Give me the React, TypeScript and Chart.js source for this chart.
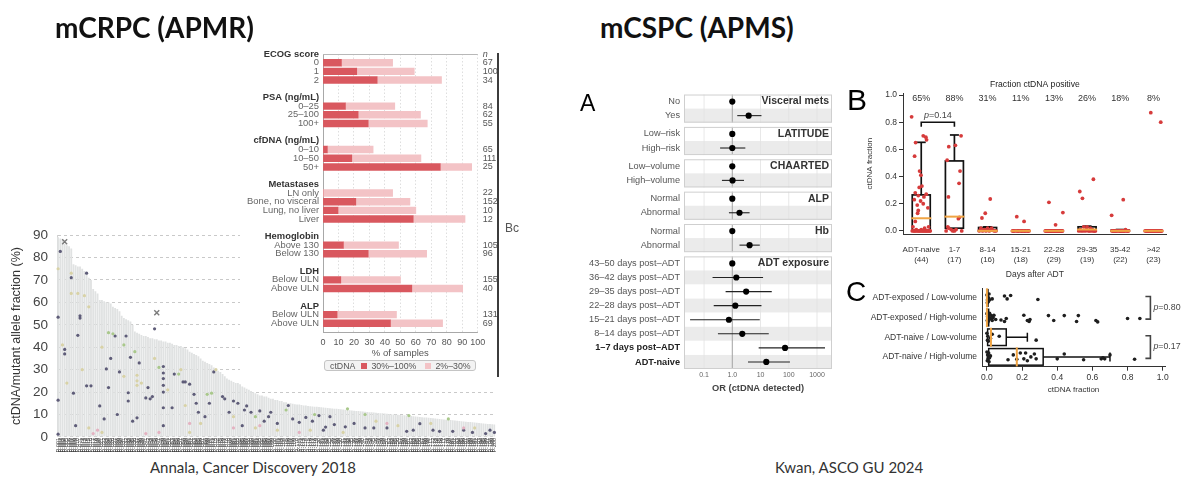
import React, { useEffect, useRef } from "react";
import { Chart, registerables } from "chart.js";

Chart.register(...registerables);
const FONT = "'Liberation Sans', Arial, Helvetica, sans-serif";
const SLIDE_FONT = "Lato, 'Open Sans', sans-serif";
Chart.defaults.font.family = FONT;
Chart.defaults.color = "#444";

// ---------------- Left: ctDNA fraction per sample (mCRPC) ----------------
const afValues = [
  89, 88.5, 88, 86, 85.5, 85, 84, 77, 76.5, 76,
  76, 75, 74, 73, 71, 70, 66, 65, 64, 61,
  61, 60.5, 60, 60, 59.5, 58, 57.5, 57, 56, 54,
  53, 52.5, 52, 51.5, 50, 47, 46.5, 46, 45.5, 45,
  45, 44.5, 44, 44, 43.5, 43.5, 43, 43, 42.5, 42.5,
  42, 42, 41.5, 41, 41, 40.5, 40.5, 40, 39.5, 39,
  38, 37.5, 37, 36.5, 36, 35, 34, 33.5, 33, 32.5,
  32, 31, 30, 29.5, 29, 28, 27, 26, 25.5, 25,
  24.5, 24, 24, 23.5, 22.5, 22, 21.5, 21, 20.5, 20,
  19.5, 19, 18.5, 18.5, 18, 18, 17.5, 17, 17, 16.5,
  16.5, 16, 16, 15.5, 15.5, 15, 15, 14.8, 14.6, 14.5,
  14.4, 14.2, 14, 14, 13.8, 13.7, 13.6, 13.5, 13.4, 13.3,
  13.2, 13.1, 13, 12.9, 12.8, 12.7, 12.6, 12.5, 12.4, 12.3,
  12.2, 12.1, 12, 11.9, 11.8, 11.7, 11.6, 11.5, 11.4, 11.3,
  11.2, 11.1, 11, 11, 10.9, 10.8, 10.7, 10.6, 10.5, 10.4,
  10.3, 10.2, 10.1, 10, 10, 9.9, 9.8, 9.7, 9.6, 9.5,
  9.4, 9.3, 9.2, 9.1, 9, 8.9, 8.8, 8.7, 8.6, 8.5,
  8.4, 8.3, 8.2, 8.1, 8, 7.9, 7.8, 7.7, 7.6, 7.5,
  7.4, 7.3, 7.2, 7.1, 7, 6.9, 6.8, 6.7, 6.6, 6.5,
  6.4, 6.3, 6.2, 6.1, 6, 5.9, 5.8, 5.7, 5.6, 5.5,
];
const sampleIds = afValues.map((_, i) => `P-${String(i + 1).padStart(3, "0")}`);
const afTitle = "ctDNA/mutant allele fraction (%)";

const afDotsDark = [
  [0, 53.4], [0, 16.4], [0, 1.2], [1, 82.7], [3, 39], [3, 37], [6, 71], [7, 19.5], [9, 45.3], [8, 5],
  [10, 54], [10, 53], [13, 73], [13, 22.8], [15, 22.8], [19, 13.8], [21, 8], [22, 30.3], [23, 22], [26, 45],
  [24, 35], [28, 29], [27, 10], [31, 45], [33, 35.5], [32, 19.7], [32, 16], [44, 48.2], [37, 33], [34, 7],
  [36, 8.5], [40, 17.4], [41, 22], [43, 18], [42, 17], [48, 31.4], [48, 28.5], [48, 26], [48, 23], [48, 20],
  [48, 13], [48, 5], [52, 13], [53, 28], [57, 24.5], [58, 24.5], [60, 23.5], [62, 19], [64, 11], [63, 15],
  [67, 9], [69, 15], [71, 29], [75, 18], [76, 17], [78, 11], [80, 16], [82, 15], [84, 5], [85, 12],
  [86, 13.8], [88, 11], [92, 11.6], [94, 7], [96, 9], [97, 11], [100, 6], [105, 14], [107, 8], [110, 6.5],
  [113, 8.7], [116, 7], [119, 9.5], [121, 3], [122, 4.4], [124, 9], [126, 5.5], [131, 4.5], [135, 6], [140, 4],
  [144, 4], [150, 4], [159, 2.5], [162, 3], [165, 5.9], [171, 3], [174, 2.5], [180, 2.5], [185, 3], [189, 2],
  [195, 1.5], [197, 3], [199, 2],
];
const afDotsGreen = [
  [23, 46.5], [25, 46], [30, 41], [35, 38], [46, 31], [55, 28], [68, 19], [70, 19.5], [90, 9], [104, 12],
  [117, 10], [132, 12.5], [140, 10], [160, 9.5], [178, 8],
];
const afDotsPale = [
  [0, 75], [6, 73], [6, 64], [9, 64], [12, 63], [2, 41], [4, 24], [11, 30], [14, 58], [20, 40],
  [30, 27], [38, 24], [50, 21], [44, 35], [58, 14], [65, 6], [72, 30], [80, 9], [56, 30], [36, 27.5],
  [36, 25], [36, 23], [100, 3], [130, 2], [145, 7], [155, 5], [170, 6], [190, 4], [60, 2], [20, 2],
  [14, 4], [90, 4], [115, 3],
];
const afDotsPink = [
  [16, 1.5], [18, 3], [46, 2], [80, 4], [92, 5], [150, 6], [185, 4], [110, 2], [60, 6], [40, 1.5],
];
const afCrosses = [[3, 87], [45, 55.4]];

// ---------------- Overlay: % of samples by clinical group ----------------
const ovLabels = [
  "ECOG score", "0", "1", "2", "",
  "PSA (ng/mL)", "0–25", "25–100", "100+", "",
  "cfDNA (ng/mL)", "0–10", "10–50", "50+", "",
  "Metastases", "LN only", "Bone, no visceral", "Lung, no liver", "Liver", "",
  "Hemoglobin", "Above 130", "Below 130", "",
  "LDH", "Below ULN", "Above ULN", "",
  "ALP", "Below ULN", "Above ULN", "",
];
const ovHeaders = [0, 5, 10, 15, 21, 25, 29];
const ovHigh = [
  null, 11.9, 21.8, 35, null,
  null, 14.5, 22.7, 29.2, null,
  null, 2.8, 18.6, 75.8, null,
  null, 0, 21.2, 9.7, 58.3, null,
  null, 13.2, 29.2, null,
  null, 11.5, 57.4, null,
  null, 9.1, 43.6, null,
];
const ovAny = [
  null, 45, 59, 76.6, null,
  null, 46.4, 63, 67.4, null,
  null, 32.4, 63.3, 96.1, null,
  null, 45, 56.2, 60, 91.8, null,
  null, 48.8, 67, null,
  null, 50.1, 90.3, null,
  null, 47.5, 77.3, null,
];
const ovN = [
  "n", "67", "100", "34", "",
  "", "84", "62", "55", "",
  "", "65", "111", "25", "",
  "", "22", "152", "10", "12", "",
  "", "105", "96", "",
  "", "155", "40", "",
  "", "131", "69", "",
];
const ovSeries = ["30%–100%", "2%–30%"];
const ovColors = ["#d9585f", "#f3c3c6"];

// ---------------- A: forest plot ----------------
const forestGroups = ["Visceral mets", "LATITUDE", "CHAARTED", "ALP", "Hb", "ADT exposure"];
const forestRowGroup = [0, 0, 1, 1, 2, 2, 3, 3, 4, 4, 5, 5, 5, 5, 5, 5, 5, 5];
const forestRows = [
  "No", "Yes", "Low–risk", "High–risk", "Low–volume", "High–volume", "Normal", "Abnormal", "Normal", "Abnormal",
  "43–50 days post–ADT", "36–42 days post–ADT", "29–35 days post–ADT", "22–28 days post–ADT",
  "15–21 days post–ADT", "8–14 days post–ADT", "1–7 days post–ADT", "ADT-naive",
];
const forestBold = [false, false, false, false, false, false, false, false, false, false, false, false, false, false, false, false, true, true];
const forestOR = [1, 3.8, 1, 1.0, 1, 1.02, 1, 1.8, 1, 4.1, 1, 1.39, 3.1, 1.28, 0.76, 2.26, 74, 16];
const forestLo = [null, 1.5, null, 0.37, null, 0.43, null, 0.76, null, 1.8, null, 0.2, 0.58, 0.22, 0.032, 0.31, 8.6, 3.6];
const forestHi = [null, 10.8, null, 2.9, null, 2.6, null, 4.1, null, 9.4, null, 12.3, 25, 10.8, 9.4, 19.6, 1920, 110];
const forestTicks = [0.1, 1, 10, 100, 1000];
const forestTickLabels = ["0.1", "1.0", "10", "100", "1000"];
const FOREST_GAP = 0.3;
const forestPositions = forestRowGroup.map((g, i) => i + g * FOREST_GAP);

// ---------------- B: ctDNA fraction by days after ADT ----------------
const bCategories = ["ADT-naive", "1-7", "8-14", "15-21", "22-28", "29-35", "35-42", ">42"];
const bCounts = [44, 17, 16, 18, 29, 19, 22, 23];
const bPositive = ["65%", "88%", "31%", "11%", "13%", "26%", "18%", "8%"];
const bYTicks = [0, 0.2, 0.4, 0.6, 0.8, 1.0];
const bQ1 = [0, 0.02, 0, 0, 0, 0, 0, 0];
const bMedian = [0.093, 0.105, 0, 0, 0, 0.01, 0, 0];
const bQ3 = [0.265, 0.515, 0.025, 0, 0, 0.03, 0.005, 0];
const bWhiskerHi = [0.652, 0.706, 0.03, 0, 0, 0.035, 0.01, 0];
const bDots = [
  [[-0.29, 0.84], [0.06, 0.70], [0.14, 0.69], [0.16, 0.67], [-0.17, 0.65], [-0.2, 0.55], [-0.05, 0.44], [-0.01, 0.41],
   [0.02, 0.33], [-0.06, 0.32], [-0.18, 0.28], [0.15, 0.27], [-0.09, 0.26], [0.08, 0.25], [-0.21, 0.23], [-0.02, 0.22],
   [0.06, 0.2], [-0.12, 0.19], [0.2, 0.17], [-0.09, 0.15], [-0.11, 0.13], [-0.18, 0.07], [-0.25, 0.03], [0.1, 0.02],
   [0.22, 0.03], [-0.15, 0.01], [0.0, 0.01], [-0.27, 0], [-0.2, 0], [-0.12, 0], [-0.05, 0], [0.03, 0], [0.09, 0],
   [0.15, 0], [0.21, 0], [0.25, 0], [-0.08, 0], [0.12, 0], [-0.22, 0], [0.18, 0], [-0.02, 0], [0.05, 0], [-0.16, 0], [0.27, 0]],
  [[0.2, 0.70], [0.03, 0.63], [-0.17, 0.62], [-0.22, 0.52], [0.17, 0.44], [0.14, 0.35], [-0.18, 0.25], [0.15, 0.10],
   [0.12, 0.09], [-0.2, 0.03], [-0.17, 0.02], [-0.1, 0.01], [0.0, 0.0], [-0.25, 0.0], [0.05, 0.01], [-0.05, 0.0], [0.22, 0.0]],
  [[0.08, 0.235], [-0.07, 0.13], [-0.17, 0.095], [-0.2, 0.02], [-0.1, 0.01], [0, 0.02], [0.1, 0.01], [0.2, 0],
   [-0.15, 0], [0.05, 0], [0.15, 0.005], [-0.05, 0], [0.25, 0], [-0.25, 0], [0.12, 0.02], [-0.02, 0.01]],
  [[-0.12, 0.105], [0.1, 0.07], [-0.25, 0], [-0.2, 0], [-0.15, 0], [-0.1, 0], [-0.05, 0], [0, 0], [0.05, 0],
   [0.1, 0], [0.15, 0], [0.2, 0], [0.25, 0], [-0.22, 0], [-0.08, 0], [0.03, 0], [0.12, 0], [0.22, 0]],
  [[-0.15, 0.21], [0.27, 0.135], [0.05, 0.045], [-0.26, 0], [-0.22, 0], [-0.18, 0], [-0.14, 0], [-0.1, 0], [-0.06, 0],
   [-0.02, 0], [0.02, 0], [0.06, 0], [0.1, 0], [0.14, 0], [0.18, 0], [0.22, 0], [0.26, 0], [-0.24, 0], [-0.16, 0],
   [-0.08, 0], [0, 0], [0.08, 0], [0.16, 0], [0.24, 0], [-0.12, 0], [0.04, 0], [0.12, 0], [0.2, 0], [-0.04, 0]],
  [[-0.22, 0.29], [-0.14, 0.24], [0.19, 0.38], [0.0, 0.03], [0.1, 0.02], [-0.1, 0.03], [-0.25, 0], [-0.18, 0],
   [-0.12, 0], [-0.05, 0], [0.04, 0], [0.08, 0], [0.14, 0], [0.2, 0], [0.25, 0], [-0.02, 0.01], [0.16, 0.01], [-0.2, 0.01], [0.22, 0]],
  [[-0.26, 0.115], [0.09, 0.23], [0.16, 0.01], [-0.25, 0], [-0.2, 0], [-0.15, 0], [-0.1, 0], [-0.05, 0], [0, 0],
   [0.05, 0], [0.1, 0], [0.15, 0], [0.2, 0], [0.25, 0], [-0.22, 0], [-0.12, 0], [-0.02, 0], [0.07, 0], [0.12, 0],
   [0.22, 0], [-0.17, 0], [0.02, 0]],
  [[-0.08, 0.87], [0.22, 0.80], [-0.25, 0], [-0.2, 0], [-0.15, 0], [-0.1, 0], [-0.05, 0], [0, 0], [0.05, 0],
   [0.1, 0], [0.15, 0], [0.2, 0], [0.25, 0], [-0.22, 0], [-0.17, 0], [-0.12, 0], [-0.02, 0], [0.03, 0], [0.08, 0],
   [0.13, 0], [0.18, 0], [0.23, 0], [-0.07, 0]],
];
const bPair = [0, 1];
const bPText = "0.14";
const bPLevel = 0.8;

// ---------------- C: ctDNA fraction by ADT exposure and volume ----------------
const cRows = ["ADT-exposed / Low-volume", "ADT-exposed / High-volume", "ADT-naive / Low-volume", "ADT-naive / High-volume"];
const cXTicks = [0, 0.2, 0.4, 0.6, 0.8, 1.0];
const cQ1 = [0, 0, 0.004, 0.01];
const cMedian = [0, 0, 0.023, 0.17];
const cQ3 = [0.006, 0.01, 0.11, 0.32];
const cWhiskerHi = [0.006, 0.012, 0.23, 0.70];
const cDots = [
  [[0, -0.15], [0.003, 0.1], [0.005, -0.05], [0.008, 0.2], [0.01, 0.0], [0.002, 0.25], [0.012, -0.2], [0.015, 0.1],
   [0.03, 0.05], [0.1, -0.1], [0.115, 0.05], [0.135, -0.12], [0.29, 0.08]],
  [[0, -0.2], [0.002, 0.15], [0.004, -0.05], [0.006, 0.22], [0.008, 0.0], [0.01, -0.15], [0.012, 0.1], [0.015, -0.22],
   [0.02, 0.05], [0.025, -0.1], [0.03, 0.15], [0.035, 0.0], [0.04, -0.12], [0.05, 0.1], [0.08, 0.12], [0.1, 0.2],
   [0.11, 0.05], [0.21, -0.12], [0.23, 0.15], [0.24, 0.2], [0.245, 0.1], [0.35, -0.1], [0.38, 0.15], [0.44, -0.1],
   [0.51, 0.2], [0.52, -0.1], [0.62, 0.15], [0.63, 0.22], [0.80, 0.05], [0.87, 0.05]],
  [[0, -0.2], [0.003, 0.15], [0.005, -0.05], [0.008, 0.2], [0.02, 0.05], [0.03, -0.15], [0.07, -0.05], [0.28, 0.15]],
  [[0, -0.25], [0.002, 0.2], [0.004, -0.1], [0.006, 0.1], [0.008, 0.0], [0.01, -0.2], [0.012, 0.25], [0.015, 0.05],
   [0.02, -0.05], [0.12, 0.15], [0.15, -0.1], [0.17, 0.12], [0.19, -0.2], [0.21, 0.1], [0.22, -0.2], [0.23, 0.2],
   [0.25, 0.0], [0.27, -0.15], [0.28, 0.1], [0.40, 0.1], [0.44, -0.15], [0.55, 0.15], [0.65, 0.1], [0.66, 0.05],
   [0.67, 0.1], [0.70, -0.1], [0.84, 0.12]],
];
const cPairs = [[0, 1], [2, 3]];
const cPTexts = ["0.80", "0.17"];
const cBracketAt = 0.93;

const ORANGE = "#f0a443";

// ---------------- helpers ----------------
function line(ctx: CanvasRenderingContext2D, x1: number, y1: number, x2: number, y2: number) {
  ctx.beginPath();
  ctx.moveTo(x1, y1);
  ctx.lineTo(x2, y2);
  ctx.stroke();
}
function pText(ctx: CanvasRenderingContext2D, x: number, y: number, val: string, size: number, align: "left" | "center") {
  ctx.textBaseline = "middle";
  ctx.font = `italic ${size}px ${FONT}`;
  const w1 = ctx.measureText("p").width;
  ctx.font = `${size}px ${FONT}`;
  const w2 = ctx.measureText("=" + val).width;
  const start = align === "center" ? x - (w1 + w2) / 2 : x;
  ctx.textAlign = "left";
  ctx.font = `italic ${size}px ${FONT}`;
  ctx.fillText("p", start, y);
  ctx.font = `${size}px ${FONT}`;
  ctx.fillText("=" + val, start + w1, y);
}
const noLegend = { legend: { display: false }, tooltip: { enabled: false } };

// ---------------- configs ----------------
function leftConfig(): any {
  const dot = (pts: number[][], color: string) => ({
    type: "scatter",
    data: pts.map(([i, y]) => ({ x: sampleIds[i], y })),
    backgroundColor: color,
    borderWidth: 0,
    pointRadius: 1.6,
    order: 1,
  });
  return {
    type: "bar",
    data: {
      labels: sampleIds,
      datasets: [
        { type: "bar", data: afValues, backgroundColor: "#e0e2e2", barPercentage: 0.84, categoryPercentage: 1, order: 10 },
        dot(afDotsPale, "#d8d2a6"),
        dot(afDotsPink, "#e4b2c1"),
        dot(afDotsGreen, "#a9c88b"),
        dot(afDotsDark, "#5e5c78"),
        {
          type: "scatter",
          data: afCrosses.map(([i, y]) => ({ x: sampleIds[i], y })),
          pointStyle: "crossRot",
          pointRadius: 3.5,
          borderColor: "#7a7a7a",
          borderWidth: 1.4,
          backgroundColor: "transparent",
          order: 0,
        },
      ],
    },
    options: {
      animation: false,
      responsive: false,
      events: [],
      layout: { padding: { top: 10, right: 2, left: 0, bottom: 0 } },
      plugins: noLegend,
      scales: {
        x: {
          type: "category",
          offset: true,
          grid: { display: false, drawTicks: false },
          border: { display: false },
          ticks: { autoSkip: false, minRotation: 90, maxRotation: 90, padding: 1, color: "#333", font: { size: 5.5 } },
          afterFit: (s: any) => { s.height = 17; },
        },
        y: {
          type: "linear",
          min: 0,
          max: 90,
          ticks: { stepSize: 10, color: "#444", font: { size: 13.5 }, padding: 9 },
          grid: { color: "#c9c9c9", drawTicks: false, lineWidth: 1 },
          border: { display: true, color: "#d2d2d2", dash: [3, 3] },
          title: { display: true, text: afTitle, color: "#333", font: { size: 12.5 }, padding: { top: 9.5, bottom: 0 } },
          afterFit: (s: any) => { s.width = 57; },
        },
      },
    },
  };
}

const ovTopLine = {
  id: "ovTopLine",
  afterDraw(chart: any) {
    const { ctx, chartArea } = chart;
    ctx.save();
    ctx.strokeStyle = "#b8b8b8";
    ctx.lineWidth = 1;
    line(ctx, chartArea.left, chartArea.top + 0.5, chartArea.right, chartArea.top + 0.5);
    ctx.restore();
  },
};

function overlayConfig(): any {
  return {
    type: "bar",
    data: {
      labels: ovLabels,
      datasets: [
        { label: ovSeries[0], data: ovHigh, backgroundColor: ovColors[0], barThickness: 6.8, stack: "s" },
        {
          label: ovSeries[1],
          data: ovAny.map((t, i) => (t == null ? null : t - (ovHigh[i] ?? 0))),
          backgroundColor: ovColors[1],
          barThickness: 6.8,
          stack: "s",
        },
      ],
    },
    options: {
      indexAxis: "y",
      animation: false,
      responsive: false,
      events: [],
      layout: { padding: { top: 14, right: 0, left: 0, bottom: 0 } },
      plugins: noLegend,
      scales: {
        x: {
          stacked: true,
          min: 0,
          max: 100,
          ticks: { stepSize: 10, autoSkip: false, minRotation: 0, maxRotation: 0, font: { size: 9 }, color: "#555", padding: 5 },
          grid: { color: "#d6d6d6", drawTicks: false, lineWidth: 0.8 },
          border: { display: true, color: "#a8a8a8", dash: [1.5, 2] },
          title: { display: true, text: "% of samples", font: { size: 9.5 }, color: "#555", padding: { top: 0, bottom: 21 } },
          afterFit: (s: any) => { s.height = 48; },
        },
        y: {
          stacked: true,
          offset: false,
          grid: { display: false, drawTicks: false },
          border: { display: true, color: "#a8a8a8" },
          ticks: {
            autoSkip: false,
            padding: 4,
            font: (c: any) => ({ size: 9.4, weight: ovHeaders.includes(c.index) ? "bold" : "normal" }),
            color: (c: any) => (ovHeaders.includes(c.index) ? "#333" : "#666"),
          },
          afterFit: (s: any) => { s.width = 83; },
        },
        yN: {
          type: "category",
          position: "right",
          labels: ovN,
          offset: false,
          grid: { display: false, drawTicks: false },
          border: { display: false },
          ticks: {
            autoSkip: false,
            padding: 5,
            color: "#555",
            font: (c: any) => ({ size: 9, style: c.index === 0 ? "italic" : "normal" }),
          },
          afterFit: (s: any) => { s.width = 20.3; },
        },
      },
    },
    plugins: [ovTopLine],
  };
}

const forestPanels = {
  id: "forestPanels",
  beforeDatasetsDraw(chart: any) {
    const { ctx, chartArea, scales } = chart;
    const { left, right } = chartArea;
    const x = scales.x, y = scales.y;
    ctx.save();
    forestGroups.forEach((name, g) => {
      const rows = forestRowGroup.map((gg, i) => (gg === g ? i : -1)).filter((i) => i >= 0);
      const first = rows[0], last = rows[rows.length - 1];
      const top = y.getPixelForValue(forestPositions[first] - 0.5);
      const bottom = y.getPixelForValue(forestPositions[last] + 0.5);
      rows.forEach((r, k) => {
        const t = y.getPixelForValue(forestPositions[r] - 0.5);
        const b = y.getPixelForValue(forestPositions[r] + 0.5);
        ctx.fillStyle = k % 2 ? "#ebebeb" : "#ffffff";
        ctx.fillRect(left, t, right - left, b - t);
      });
      ctx.lineWidth = 0.8;
      ctx.strokeStyle = "#e1e1e1";
      forestTicks.forEach((v) => {
        if (v === 1) return;
        const px = x.getPixelForValue(v);
        line(ctx, px, top, px, bottom);
      });
      ctx.strokeStyle = "#a2a2a2";
      ctx.lineWidth = 1;
      const p1 = x.getPixelForValue(1);
      line(ctx, p1, top, p1, bottom);
      ctx.strokeStyle = "#cfcfcf";
      ctx.strokeRect(left + 0.5, top + 0.5, right - left - 1, bottom - top - 1);
      ctx.fillStyle = "#333";
      ctx.font = `bold 10.5px ${FONT}`;
      ctx.textAlign = "right";
      ctx.textBaseline = "middle";
      ctx.fillText(name, right - 3, y.getPixelForValue(forestPositions[first]));
    });
    ctx.strokeStyle = "#222";
    ctx.lineWidth = 1.1;
    forestLo.forEach((lo, i) => {
      const hi = forestHi[i];
      if (lo == null || hi == null) return;
      const py = y.getPixelForValue(forestPositions[i]);
      line(ctx, x.getPixelForValue(lo), py, x.getPixelForValue(hi), py);
    });
    ctx.restore();
  },
};

function forestConfig(): any {
  const maxPos = forestPositions[forestPositions.length - 1] + 0.5;
  return {
    type: "scatter",
    data: {
      datasets: [
        {
          data: forestOR.map((v, i) => ({ x: v, y: forestPositions[i] })),
          backgroundColor: "#000",
          borderWidth: 0,
          pointRadius: 3.1,
        },
      ],
    },
    options: {
      animation: false,
      responsive: false,
      events: [],
      layout: { padding: { top: 8.3, right: 8, left: 0, bottom: 0 } },
      plugins: noLegend,
      scales: {
        x: {
          type: "logarithmic",
          min: 0.0195,
          max: 3400,
          afterBuildTicks: (s: any) => { s.ticks = forestTicks.map((v) => ({ value: v })); },
          ticks: { callback: (_v: any, i: number) => forestTickLabels[i], font: { size: 7 }, color: "#666", padding: 2 },
          grid: { display: false, drawTicks: false },
          border: { display: false },
          title: { display: true, text: "OR (ctDNA detected)", font: { size: 9.3, weight: "bold" }, color: "#444", padding: { top: 0, bottom: 6 } },
          afterFit: (s: any) => { s.height = 31; },
        },
        y: {
          type: "linear",
          reverse: true,
          min: -0.5,
          max: maxPos,
          afterBuildTicks: (s: any) => { s.ticks = forestPositions.map((v) => ({ value: v })); },
          ticks: {
            autoSkip: false,
            callback: (_v: any, i: number) => forestRows[i],
            padding: 4,
            font: (c: any) => ({ size: 9.2, weight: forestBold[c.index] ? "bold" : "normal" }),
            color: (c: any) => (forestBold[c.index] ? "#222" : "#555"),
          },
          grid: { display: false, drawTicks: false },
          border: { display: false },
          afterFit: (s: any) => { s.width = 109; },
        },
      },
    },
    plugins: [forestPanels],
  };
}

const bBoxes = {
  id: "bBoxes",
  beforeDatasetsDraw(chart: any) {
    const { ctx, scales } = chart;
    const x = scales.x, y = scales.y;
    ctx.save();
    ctx.strokeStyle = "#111";
    ctx.lineWidth = 1.7;
    bCategories.forEach((_c, i) => {
      const xc = x.getPixelForValue(i), hw = 9;
      const y1 = y.getPixelForValue(bQ1[i]), y3 = y.getPixelForValue(bQ3[i]);
      ctx.strokeRect(xc - hw, y3, 2 * hw, y1 - y3);
      if (bWhiskerHi[i] > bQ3[i]) {
        const yh = y.getPixelForValue(bWhiskerHi[i]);
        line(ctx, xc, y3, xc, yh);
        line(ctx, xc - 4.5, yh, xc + 4.5, yh);
      }
    });
    ctx.restore();
  },
  afterDatasetsDraw(chart: any) {
    const { ctx, scales, chartArea } = chart;
    const x = scales.x, y = scales.y;
    ctx.save();
    ctx.strokeStyle = ORANGE;
    ctx.lineWidth = 2;
    bCategories.forEach((_c, i) => {
      const xc = x.getPixelForValue(i);
      const ym = y.getPixelForValue(bMedian[i]);
      line(ctx, xc - 10, ym, xc + 10, ym);
    });
    ctx.fillStyle = "#333";
    ctx.font = `9px ${FONT}`;
    ctx.textAlign = "center";
    ctx.textBaseline = "middle";
    bPositive.forEach((t, i) => ctx.fillText(t, x.getPixelForValue(i), chartArea.top + 5.3));
    ctx.font = `8.6px ${FONT}`;
    ctx.fillStyle = "#222";
    ctx.fillText("Fraction ctDNA positive", (chartArea.left + chartArea.right) / 2, chartArea.top - 8);
    const xa = x.getPixelForValue(bPair[0]), xb = x.getPixelForValue(bPair[1]);
    const yb = y.getPixelForValue(bPLevel);
    ctx.strokeStyle = "#111";
    ctx.lineWidth = 1.6;
    ctx.beginPath();
    ctx.moveTo(xa, yb + 4.5);
    ctx.lineTo(xa, yb);
    ctx.lineTo(xb, yb);
    ctx.lineTo(xb, yb + 4.5);
    ctx.stroke();
    ctx.fillStyle = "#444";
    pText(ctx, (xa + xb) / 2, yb - 6.5, bPText, 9, "center");
    ctx.restore();
  },
};

function bConfig(): any {
  const pts = bDots.flatMap((arr, i) => arr.map(([o, v]) => ({ x: i + o, y: v })));
  return {
    type: "scatter",
    data: { datasets: [{ data: pts, backgroundColor: "#d63b3b", borderWidth: 0, pointRadius: 1.9 }] },
    options: {
      animation: false,
      responsive: false,
      events: [],
      layout: { padding: { top: 18, right: 33.3, left: 0, bottom: 0 } },
      plugins: noLegend,
      scales: {
        x: {
          type: "linear",
          min: -0.55,
          max: 7.4,
          afterBuildTicks: (s: any) => { s.ticks = bCategories.map((_c, i) => ({ value: i })); },
          ticks: {
            autoSkip: false,
            maxRotation: 0,
            callback: (_v: any, i: number) => [bCategories[i], `(${bCounts[i]})`],
            font: { size: 8, lineHeight: 1.25 },
            color: "#333",
            padding: 10,
          },
          grid: { display: false, drawTicks: false },
          border: { display: true, color: "#333", width: 1 },
          title: { display: true, text: "Days after ADT", font: { size: 8.5 }, color: "#333", padding: { top: 0, bottom: 7 } },
          afterFit: (s: any) => { s.height = 52.7; },
        },
        y: {
          type: "linear",
          min: -0.025,
          max: 1.015,
          afterBuildTicks: (s: any) => { s.ticks = bYTicks.map((v) => ({ value: v })); },
          ticks: { callback: (v: any) => Number(v).toFixed(1), font: { size: 8.5 }, color: "#333", padding: 2 },
          grid: { drawOnChartArea: false, drawTicks: true, tickLength: 4, color: "#333" },
          border: { display: true, color: "#333" },
          title: { display: true, text: "ctDNA fraction", font: { size: 8 }, color: "#333", padding: { top: 20, bottom: 0 } },
          afterFit: (s: any) => { s.width = 58; },
        },
      },
    },
    plugins: [bBoxes],
  };
}

const cBoxes = {
  id: "cBoxes",
  beforeDatasetsDraw(chart: any) {
    const { ctx, scales } = chart;
    const x = scales.x, y = scales.y;
    ctx.save();
    ctx.strokeStyle = "#111";
    ctx.lineWidth = 1.5;
    cRows.forEach((_r, i) => {
      const yc = y.getPixelForValue(i), hh = 8.3;
      const x1 = x.getPixelForValue(cQ1[i]), x3 = x.getPixelForValue(cQ3[i]);
      ctx.strokeRect(x1, yc - hh, x3 - x1, 2 * hh);
      if (cWhiskerHi[i] > cQ3[i]) {
        const xh = x.getPixelForValue(cWhiskerHi[i]);
        line(ctx, x3, yc, xh, yc);
        line(ctx, xh, yc - 4.5, xh, yc + 4.5);
      }
    });
    ctx.restore();
  },
  afterDatasetsDraw(chart: any) {
    const { ctx, scales } = chart;
    const x = scales.x, y = scales.y;
    ctx.save();
    ctx.strokeStyle = ORANGE;
    ctx.lineWidth = 2;
    cRows.forEach((_r, i) => {
      const yc = y.getPixelForValue(i);
      const xm = x.getPixelForValue(cMedian[i]);
      line(ctx, xm, yc - 9.5, xm, yc + 9.5);
    });
    const xb = x.getPixelForValue(cBracketAt);
    cPairs.forEach(([a, b], k) => {
      const ya = y.getPixelForValue(a) - 1.5, yb = y.getPixelForValue(b) + 1.5;
      ctx.strokeStyle = "#444";
      ctx.lineWidth = 1.6;
      ctx.beginPath();
      ctx.moveTo(xb - 5, ya);
      ctx.lineTo(xb, ya);
      ctx.lineTo(xb, yb);
      ctx.lineTo(xb - 5, yb);
      ctx.stroke();
      ctx.fillStyle = "#444";
      pText(ctx, xb + 3, (ya + yb) / 2, cPTexts[k], 8.8, "left");
    });
    ctx.restore();
  },
};

function cConfig(): any {
  const pts = cDots.flatMap((arr, i) => arr.map(([v, dy]) => ({ x: v, y: i + dy })));
  return {
    type: "scatter",
    data: { datasets: [{ data: pts, backgroundColor: "#1e1e1e", borderWidth: 0, pointRadius: 1.8 }] },
    options: {
      animation: false,
      responsive: false,
      events: [],
      layout: { padding: { top: 5, right: 35, left: 0, bottom: 0 } },
      plugins: noLegend,
      scales: {
        x: {
          type: "linear",
          min: -0.028,
          max: 1.013,
          afterBuildTicks: (s: any) => { s.ticks = cXTicks.map((v) => ({ value: v })); },
          ticks: { callback: (v: any) => Number(v).toFixed(1), font: { size: 8.5 }, color: "#333", padding: 2 },
          grid: { drawOnChartArea: false, drawTicks: true, tickLength: 4, color: "#333" },
          border: { display: true, color: "#333" },
          title: { display: true, text: "ctDNA fraction", font: { size: 8 }, color: "#333", padding: { top: 0, bottom: 5 } },
          afterFit: (s: any) => { s.height = 33.3; },
        },
        y: {
          type: "linear",
          reverse: true,
          min: -0.5,
          max: 3.5,
          afterBuildTicks: (s: any) => { s.ticks = cRows.map((_r, i) => ({ value: i })); },
          ticks: { autoSkip: false, callback: (_v: any, i: number) => cRows[i], font: { size: 8.5 }, color: "#333", padding: 5 },
          grid: { display: false, drawTicks: false },
          border: { display: true, color: "#333" },
          afterFit: (s: any) => { s.width = 137; },
        },
      },
    },
    plugins: [cBoxes],
  };
}

// ---------------- components ----------------
function ChartCanvas(props: { left: number; top: number; width: number; height: number; make: () => any; bg?: string }) {
  const ref = useRef<HTMLCanvasElement | null>(null);
  useEffect(() => {
    if (!ref.current) return;
    const chart = new Chart(ref.current, props.make());
    return () => chart.destroy();
  }, []);
  return (
    <canvas
      ref={ref}
      width={props.width}
      height={props.height}
      style={{ position: "absolute", left: props.left, top: props.top, width: props.width, height: props.height, background: props.bg || "transparent" }}
    />
  );
}

function Txt(props: { left: number; top: number; size: number; children: React.ReactNode; bold?: boolean; font?: string; color?: string }) {
  return (
    <div
      style={{
        position: "absolute",
        left: props.left,
        top: props.top,
        fontSize: props.size,
        lineHeight: 1,
        fontFamily: props.font || FONT,
        fontWeight: props.bold ? 700 : 400,
        color: props.color || "#000",
        whiteSpace: "nowrap",
      }}
    >
      {props.children}
    </div>
  );
}

export default function App() {
  return (
    <div style={{ position: "absolute", left: 0, top: 0, width: 1200, height: 487, background: "#fff", overflow: "hidden" }}>
      <ChartCanvas left={0} top={218} width={502} height={236} make={leftConfig} />
      <ChartCanvas left={240} top={40} width={258} height={340} make={overlayConfig} bg="#fff" />
      <div style={{ position: "absolute", left: 496.5, top: 53, width: 2.7, height: 324, background: "#3c3c3c" }} />
      <div
        style={{
          position: "absolute", left: 324, top: 360, width: 152, height: 11, boxSizing: "border-box",
          border: "1px solid #c4c4c4", borderRadius: 3, background: "#f3f3f3", display: "flex", alignItems: "center",
          fontFamily: FONT, fontSize: 8.8, color: "#555", paddingLeft: 5, whiteSpace: "nowrap",
        }}
      >
        <span>ctDNA</span>
        <span style={{ display: "inline-block", width: 6, height: 6, background: ovColors[0], marginLeft: 6, marginRight: 4 }} />
        <span>{ovSeries[0]}</span>
        <span style={{ display: "inline-block", width: 6, height: 6, background: ovColors[1], marginLeft: 9, marginRight: 4 }} />
        <span>{ovSeries[1]}</span>
      </div>
      <Txt left={505} top={222} size={12} color="#555">Bc</Txt>

      <ChartCanvas left={575} top={85} width={265} height={315} make={forestConfig} />
      <ChartCanvas left={845} top={75} width={355} height={212} make={bConfig} />
      <ChartCanvas left={845} top={278} width={355} height={122} make={cConfig} />

      <Txt left={580} top={92} size={23}>A</Txt>
      <Txt left={847} top={85} size={30}>B</Txt>
      <Txt left={846} top={278} size={28}>C</Txt>

      <Txt left={55} top={13} size={28} bold font={SLIDE_FONT} color="#111">mCRPC (APMR)</Txt>
      <Txt left={600} top={13} size={28} bold font={SLIDE_FONT} color="#111">mCSPC (APMS)</Txt>
      <Txt left={150} top={460} size={15} font={SLIDE_FONT} color="#333">Annala, Cancer Discovery 2018</Txt>
      <Txt left={775} top={460} size={15} font={SLIDE_FONT} color="#333">Kwan, ASCO GU 2024</Txt>
    </div>
  );
}
